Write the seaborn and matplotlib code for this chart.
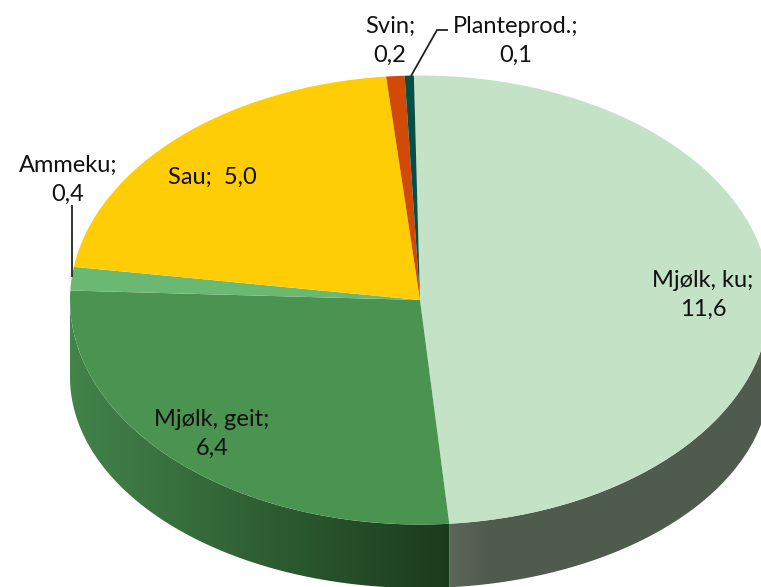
import numpy as np
import matplotlib
matplotlib.use('Agg')
import matplotlib.pyplot as plt
from matplotlib.colors import LinearSegmentedColormap
from matplotlib.patches import Polygon
import seaborn as sns

categories = ['Mjølk, ku', 'Mjølk, geit', 'Ammeku', 'Sau', 'Svin', 'Planteprod.']
values = [11.6, 6.4, 0.4, 5.0, 0.2, 0.1]
value_labels = ['11,6', '6,4', '0,4', '5,0', '0,2', '0,1']
top_colors = ['#c3e2c6', '#4a9350', '#6ab872', '#ffcd05', '#d24a08', '#064f47']
# side wall gradients, left to right
wall_colors = {
    0: [(0, '#5c675a'), (0.12, '#505c4e'), (1, '#4f5b4d')],
    1: [(0, '#42844a'), (0.5, '#2f5f33'), (1, '#1b3b1d')],
}

W, H = 761, 587
CX, CY, RX, RY = 420, 300, 350, 224.5
# lower rim of the disc is its own ellipse
RIM_CY, RIM_RY = 377, 211

sns.set_theme(style='white')
plt.rcParams['font.family'] = ['Lato', 'DejaVu Sans']

fig = plt.figure(figsize=(W / 100, H / 100), dpi=100)
ax = fig.add_axes([0, 0, 1, 1])
palette = sns.color_palette(top_colors)

wedges, _ = ax.pie(values, colors=palette, startangle=91, counterclock=False, radius=1,
                   wedgeprops={'linewidth': 0})
ax.set_aspect('auto')
xlim = (-CX / RX, (W - CX) / RX)
ylim = ((CY - H) / RY, CY / RY)

# side wall of the disc, only for the front half
for i, colors in wall_colors.items():
    a = np.radians(np.linspace(wedges[i].theta1, wedges[i].theta2, 400))
    a = a[np.sin(a) <= 0]
    x, y = np.cos(a), np.sin(a)
    y_rim = (CY - RIM_CY) / RY + y * RIM_RY / RY
    pts = np.vstack([np.column_stack([x, y]), np.column_stack([x, y_rim])[::-1]])
    poly = Polygon(pts, closed=True, facecolor='none', edgecolor='none')
    ax.add_patch(poly)
    cmap = LinearSegmentedColormap.from_list(f'wall{i}', colors)
    im = ax.imshow(np.linspace(0, 1, 256)[None, :], cmap=cmap, aspect='auto', zorder=0.5,
                   extent=(x.min(), x.max(), ylim[0], 0))
    im.set_clip_path(poly)
ax.set_xlim(xlim)
ax.set_ylim(ylim)


def px(x, y):
    return (x - CX) / RX, (CY - y) / RY


def label(i, x, y, sep=';\n'):
    ax.text(*px(x, y), f'{categories[i]}{sep}{value_labels[i]}', ha='center', va='center',
            fontsize=17, color='#111111', linespacing=1.45)


label(0, 703, 295)
label(1, 212, 434)
label(2, 68, 180)
label(3, 212, 177, sep=';  ')
label(4, 390, 41)
label(5, 516, 41)

line_kw = {'color': '#222222', 'linewidth': 1.3, 'solid_capstyle': 'butt'}
ax.plot(*zip(px(72, 205), px(72, 277)), **line_kw)
ax.plot(*zip(px(448, 30), px(437, 30), px(411, 76)), **line_kw)

plt.savefig('out.png', dpi=100)
